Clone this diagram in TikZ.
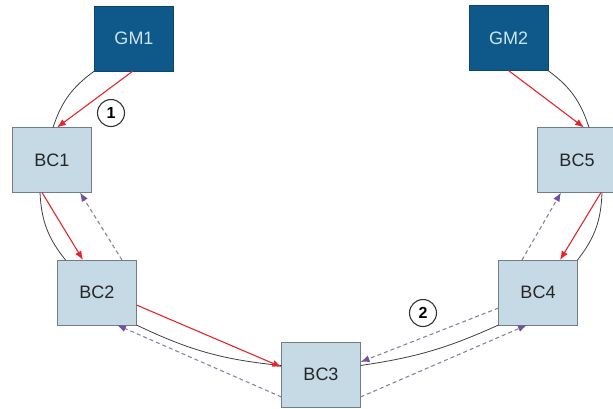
\documentclass[tikz,border=0pt]{standalone}
\usepackage{fontspec}
\setmainfont{Liberation Sans}
\usetikzlibrary{arrows,arrows.meta}

\definecolor{gmblue}{RGB}{14,88,138}
\definecolor{gmtext}{RGB}{205,228,242}
\definecolor{bcfill}{RGB}{197,218,229}
\definecolor{bcline}{RGB}{112,126,136}
\definecolor{syncred}{RGB}{228,38,44}
\definecolor{annpurple}{RGB}{112,82,160}
\definecolor{anngray}{RGB}{138,130,158}

\begin{document}
\begin{tikzpicture}[x=1pt,y=-1pt,
	box/.style={rectangle, minimum width=79pt, minimum height=65pt, inner sep=0pt, outer sep=0pt, font=\fontsize{18}{20}\selectfont},
	gm/.style={box, fill=gmblue, draw=gmblue!80!black, text=gmtext},
	bc/.style={box, fill=bcfill, draw=bcline, line width=0.8pt, text=black!85},
	ring/.style={color=black!75, line width=0.8pt},
	sync/.style={-{Latex[length=9pt,width=7pt]}, color=syncred, line width=1.1pt},
	ann/.style={-{Latex[length=9pt,width=7pt,color=annpurple]}, color=anngray, dashed, dash pattern=on 4pt off 3pt, line width=1.1pt},
	hop/.style={circle, draw=black!80, line width=1.1pt, minimum size=27pt, inner sep=0pt, font=\fontsize{16}{18}\selectfont\bfseries}]
	\useasboundingbox (0,0) rectangle (613,408);
	% clocks
	\node[gm] (GM1) at (134,38.5) {GM1};
	\node[gm] (GM2) at (508.5,38) {GM2};
	\node[bc] (BC1) at (52,160) {BC1};
	\node[bc] (BC2) at (97,292.5) {BC2};
	\node[bc] (BC3) at (321,374.5) {BC3};
	\node[bc] (BC4) at (538,292.5) {BC4};
	\node[bc] (BC5) at (577,160) {BC5};
	% ring
	\path[ring]
	(GM1.south west) edge[bend right=18] ([xshift=1pt]BC1.north)
	([xshift=-12pt]BC1.south) edge[bend right=18] ([xshift=8pt]BC2.north west)
	(BC2.south east) edge[bend right=10] ([yshift=9pt]BC3.west)
	([yshift=9pt]BC3.east) edge[bend right=8] (BC4.south west)
	(BC4.north east) edge[bend right=18] ([xshift=25pt]BC5.south)
	([xshift=12pt]BC5.north) edge[bend right=18] (GM2.south east);
	% sync path
	\path[sync]
	([xshift=-1pt]GM1.south) edge ([xshift=5pt]BC1.north)
	([xshift=-10pt]BC1.south) edge ([xshift=-14pt]BC2.north)
	([yshift=-12.5pt]BC2.east) edge ([yshift=7.5pt]BC3.west)
	(GM2.south) edge ([xshift=7pt]BC5.north)
	([xshift=24pt]BC5.south) edge ([xshift=22pt]BC4.north);
	% announce path
	\path[ann]
	([xshift=25pt]BC2.north) edge ([xshift=28pt]BC1.south)
	([yshift=-22.5pt]BC3.west) edge ([xshift=20pt]BC2.south)
	([yshift=-15.5pt]BC4.west) edge ([yshift=12.5pt]BC3.east)
	([yshift=-22.5pt]BC3.east) edge ([xshift=-11pt]BC4.south)
	([xshift=-16pt]BC4.north) edge ([xshift=-16pt]BC5.south);
	% markers
	\node[hop] (hop1) at (111,113) {1};
	\node[hop] (hop2) at (423,313) {2};
\end{tikzpicture}
\end{document}
